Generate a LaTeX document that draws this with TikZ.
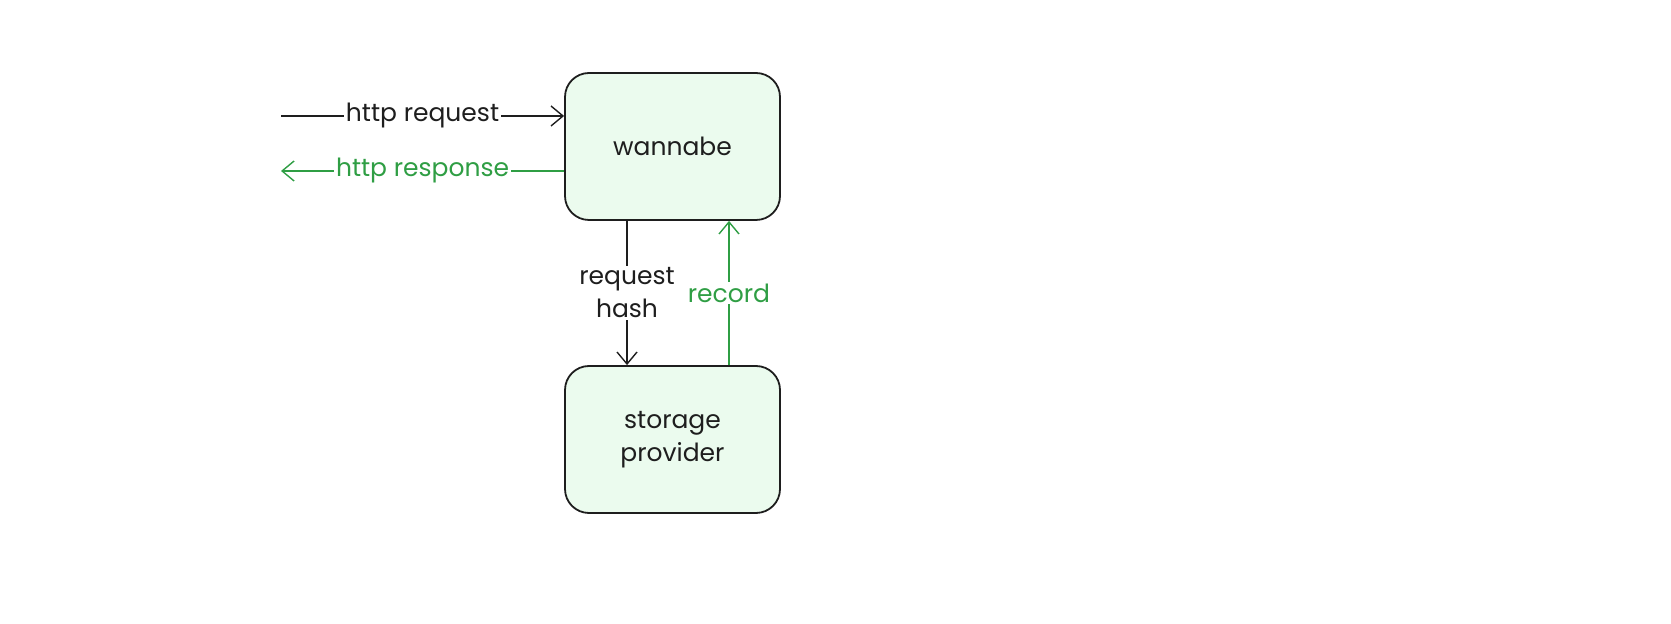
\documentclass[tikz,border=0pt]{standalone}
\usepackage{xcolor}
\usepackage{fontspec}
\setmainfont{Poppins}
\usetikzlibrary{arrows.meta, positioning}
\definecolor{ink}{HTML}{1E1E1E}
\definecolor{leaf}{HTML}{2F9E44}
\definecolor{mint}{HTML}{EBFBEE}
\tikzstyle{block} = [rectangle, draw=ink, line width=0.9pt, fill=mint, text=ink,
minimum width=107.5pt, minimum height=73.5pt, rounded corners=12pt, align=center,
font=\fontsize{12.5pt}{16.5pt}\selectfont]
\tikzstyle{line} = [draw=ink, line width=0.7pt, -{Straight Barb[length=6pt,width=10pt]}]
\tikzstyle{back} = [line, draw=leaf]
\tikzstyle{tag} = [fill=white, inner sep=1pt, align=center, text=ink,
font=\fontsize{12.5pt}{16.5pt}\selectfont]

\begin{document}
\begin{tikzpicture}[x=0.5pt, y=-0.5pt, node distance=146.5pt]
	\useasboundingbox (0,0) rectangle (1671,624);
	% Place nodes
	\node [block] (wannabe) at (672.5,146.5) {wannabe};
	\node [block, below of=wannabe] (storage) {storage\\provider};
	\coordinate (client in) at (281,116);
	\coordinate (client out) at (281,171);
	%
	\path [line] (client in) -- node [tag] {http request} (client in -| wannabe.west);
	\path [back] (client out -| wannabe.west) -- node [tag, text=leaf] {http response} (client out);
	
	\path [line] ([xshift=-22.75pt]wannabe.south) -- node [tag] {request\\hash} ([xshift=-22.75pt]storage.north);
	\path [back] ([xshift=28.25pt]storage.north) -- node [tag, text=leaf] {record} ([xshift=28.25pt]wannabe.south);
\end{tikzpicture}
\end{document}
